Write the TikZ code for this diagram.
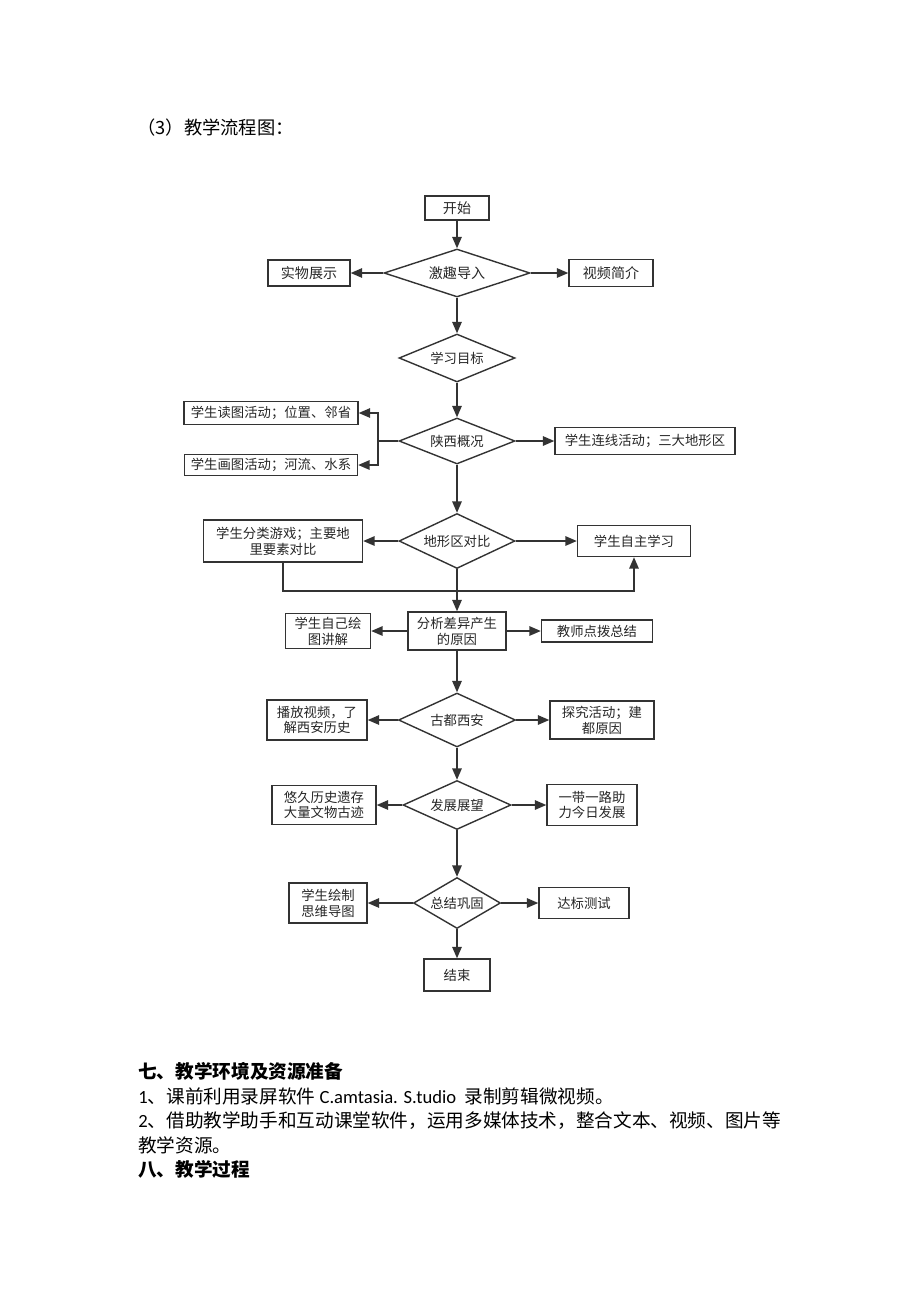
\documentclass[tikz,border=0pt]{standalone}
\usepackage{fontspec}
\setmainfont{Noto Sans CJK SC}
\newfontfamily\latin{Carlito}
\usepackage{tikz}
\usetikzlibrary{arrows.meta,shapes.geometric}

\begin{document}
\begin{tikzpicture}[x=0.02cm, y=-0.02cm,
  box/.style={draw=black!80, line width=0.8pt, rectangle, inner sep=1pt, align=center, font=\fontsize{7.6pt}{9pt}\selectfont, text=black!85},
  choice/.style={draw=black!80, line width=0.8pt, diamond, aspect=2.4, inner sep=0pt, font=\fontsize{7.6pt}{9pt}\selectfont, text=black!85},
  flow/.style={draw=black!80, line width=0.9pt, -{Triangle[length=2.3mm,width=1.9mm]}},
  para/.style={anchor=west, inner sep=0pt, font=\fontsize{10.6pt}{13pt}\selectfont}]
  \useasboundingbox (0,0) rectangle (920,1302);
  \node[para, font=\fontsize{10.4pt}{12pt}\selectfont] (title) at (137,128) {（3）教学流程图：};
  \node[box, minimum width=12.8mm, minimum height=4.8mm, font=\fontsize{8pt}{9pt}\selectfont] (start) at (457,208) {开始};
  \node[choice, minimum width=29.2mm, minimum height=9.6mm, font=\fontsize{8pt}{9pt}\selectfont] (jqdr) at (457,273) {激趣导入};
  \node[box, minimum width=16.4mm, minimum height=5.2mm, font=\fontsize{8pt}{9pt}\selectfont] (swzs) at (309,273) {实物展示};
  \node[box, minimum width=16.8mm, minimum height=5.4mm, font=\fontsize{8pt}{9pt}\selectfont] (spjj) at (611,273) {视频简介};
  \node[choice, minimum width=23.2mm, minimum height=9.6mm] (xxmb) at (457,358) {学习目标};
  \node[choice, minimum width=23.2mm, minimum height=9.2mm] (sxgk) at (457,441) {陕西概况};
  \node[box, minimum width=34.8mm, minimum height=4.6mm] (dutu) at (271,413) {学生读图活动；位置、邻省};
  \node[box, minimum width=34.6mm, minimum height=4.2mm] (huatu) at (271,465) {学生画图活动；河流、水系};
  \node[box, minimum width=36mm, minimum height=5.4mm] (lxhd) at (645,441) {学生连线活动；三大地形区};
  \coordinate (sxk) at (378,441);
  \node[choice, minimum width=23.2mm, minimum height=11mm] (dxq) at (457,541) {地形区对比};
  \node[box, minimum width=31.8mm, minimum height=8.4mm] (flyx) at (283,541) {学生分类游戏；主要地\\里要素对比};
  \node[box, minimum width=22.6mm, minimum height=6.2mm] (zzxx) at (634,541) {学生自主学习};
  \coordinate (loop) at (283,591);
  \node[box, minimum width=19.6mm, minimum height=7.6mm] (fxcy) at (457,631) {分析差异产生\\的原因};
  \node[box, minimum width=17mm, minimum height=7mm] (zjht) at (328,631) {学生自己绘\\图讲解};
  \node[box, minimum width=22.2mm, minimum height=4.4mm] (jsdb) at (597,631) {教师点拨总结};
  \node[choice, minimum width=23.4mm, minimum height=10.8mm] (gdxa) at (457,720) {古都西安};
  \node[box, minimum width=20mm, minimum height=8mm] (bfsp) at (317,720) {播放视频，了\\解西安历史};
  \node[box, minimum width=20.8mm, minimum height=7.6mm] (tjhd) at (602,720) {探究活动；建\\都原因};
  \node[choice, minimum width=21.6mm, minimum height=9.8mm] (fzzw) at (457,805) {发展展望};
  \node[box, minimum width=20.8mm, minimum height=7.8mm] (yjls) at (324,805) {悠久历史遗存\\大量文物古迹};
  \node[box, minimum width=18mm, minimum height=8.2mm] (ydyl) at (592,805) {一带一路助\\力今日发展};
  \node[choice, minimum width=17.4mm, minimum height=10.2mm] (zjgg) at (457,903) {总结巩固};
  \node[box, minimum width=15.6mm, minimum height=8mm] (xshz) at (328,903) {学生绘制\\思维导图};
  \node[box, minimum width=18mm, minimum height=6.2mm] (dbcs) at (584,903) {达标测试};
  \node[box, minimum width=13.2mm, minimum height=6.4mm] (end) at (457,975) {结束};
  \draw[flow] (start) -- (jqdr.north);
  \draw[flow] (jqdr.west) -- (swzs);
  \draw[flow] (jqdr.east) -- (spjj);
  \draw[flow] (jqdr.south) -- (xxmb.north);
  \draw[flow] (xxmb.south) -- (sxgk.north);
  \draw[draw=black!80, line width=0.9pt] (sxgk.west) -- (sxk);
  \draw[flow] (sxk) |- (dutu);
  \draw[flow] (sxk) |- (huatu);
  \draw[flow] (sxgk.east) -- (lxhd);
  \draw[flow] (sxgk.south) -- (dxq.north);
  \draw[flow] (dxq.west) -- (flyx);
  \draw[flow] (dxq.east) -- (zzxx);
  \draw[flow] (flyx) -- (loop) -| (zzxx);
  \draw[flow] (dxq.south) -- (fxcy);
  \draw[flow] (fxcy) -- (zjht);
  \draw[flow] (fxcy) -- (jsdb);
  \draw[flow] (fxcy) -- (gdxa.north);
  \draw[flow] (gdxa.west) -- (bfsp);
  \draw[flow] (gdxa.east) -- (tjhd);
  \draw[flow] (gdxa.south) -- (fzzw.north);
  \draw[flow] (fzzw.west) -- (yjls);
  \draw[flow] (fzzw.east) -- (ydyl);
  \draw[flow] (fzzw.south) -- (zjgg.north);
  \draw[flow] (zjgg.west) -- (xshz);
  \draw[flow] (zjgg.east) -- (dbcs);
  \draw[flow] (zjgg.south) -- (end);
  \node[para, font=\fontsize{10.6pt}{13pt}\bfseries\selectfont] (env) at (138,1071) {七、教学环境及资源准备};
  \node[para] (res1) at (138,1096) {{\latin 1}、课前利用录屏软件 {\latin C.amtasia. S.tudio}\ \ 录制剪辑微视频。};
  \node[para] (res2) at (138,1121) {{\latin 2}、借助教学助手和互动课堂软件，运用多媒体技术，整合文本、视频、图片等};
  \node[para] (res3) at (138,1145) {教学资源。};
  \node[para, font=\fontsize{10.6pt}{13pt}\bfseries\selectfont] (proc) at (138,1169) {八、教学过程};
\end{tikzpicture}
\end{document}
